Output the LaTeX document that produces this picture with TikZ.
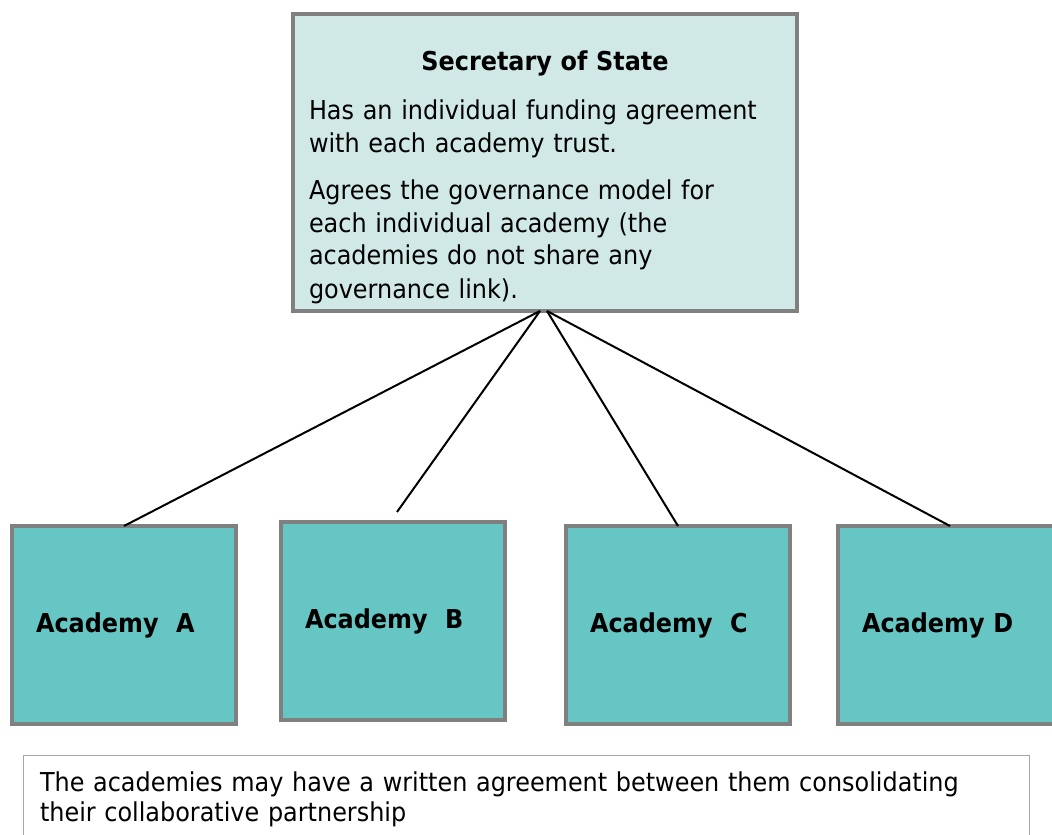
\documentclass[tikz,border=0pt]{standalone}
\usepackage{fontspec}
\setmainfont{DejaVu Sans}[FakeStretch=0.92]
\usepackage{tikz}
\usetikzlibrary{positioning}
\definecolor{sosfill}{HTML}{D0E9E7}
\definecolor{academyfill}{HTML}{66C6C3}
\definecolor{boxgray}{HTML}{808080}
\definecolor{notegray}{HTML}{A6A6A6}
\def\SecretaryColor{sosfill}
\def\AcademyColor{academyfill}

\begin{document}
\begin{tikzpicture} [x=1pt, y=-1pt,
     N/.style = {draw=boxgray, line width=4.5pt, outer sep=0pt, align=left},
  acad/.style = {N, fill=\AcademyColor, minimum height=198pt, text width=176pt,
                 inner xsep=24pt, font=\fontsize{26}{30}\selectfont\bfseries},
  note/.style = {draw=notegray, line width=1pt, outer sep=0pt, align=left,
                 text width=972pt, inner xsep=17pt, inner ysep=16.5pt,
                 font=\fontsize{26}{30}\selectfont},
    every edge/.style={draw, line width=2pt}
]
  \useasboundingbox (0,0) rectangle (1052,835);

  % Nodes and Positions
  % LEVEL 0 (TOP)
  \node[N, fill=\SecretaryColor, text width=472pt, inner xsep=16pt, inner ysep=5pt,
        font=\fontsize{26}{33}\selectfont] (sos) [anchor=north] at (545,14)
    {{\centering\bfseries\rule{0pt}{51pt}Secretary of State\par}
     \vspace{16pt}
     Has an individual funding agreement\\ with each academy trust.\par
     \vspace{14pt}
     Agrees the governance model for\\ each individual academy (the\\
     academies do not share any\\ governance link).\rule[-8pt]{0pt}{8pt}};

  % LEVEL -1
  \node[acad] (acadA) at (124,625) {Academy~~A};
  \node[acad] (acadB) [right=45pt of acadA, yshift=4pt]  {Academy~~B};
  \node[acad] (acadC) [right=61pt of acadB, yshift=-4pt] {Academy~~C};
  \node[acad] (acadD) [right=48pt of acadC]              {Academy D};

  % note under the academies
  \node[note] (note) [below right=31pt and 11pt of acadA.south west]
    {The academies may have a written agreement between them consolidating\\
     their collaborative partnership};

  % Edges
  \coordinate (bTip) at ([xshift=4pt, yshift=10pt]acadB.north);
  \path ([xshift=-5pt]sos.south) edge (acadA.north);
  \path ([xshift=-5pt]sos.south) edge (bTip);
  \path ([xshift=2pt]sos.south)  edge (acadC.north);
  \path ([xshift=2pt]sos.south)  edge (acadD.north);

\end{tikzpicture}
\end{document}
